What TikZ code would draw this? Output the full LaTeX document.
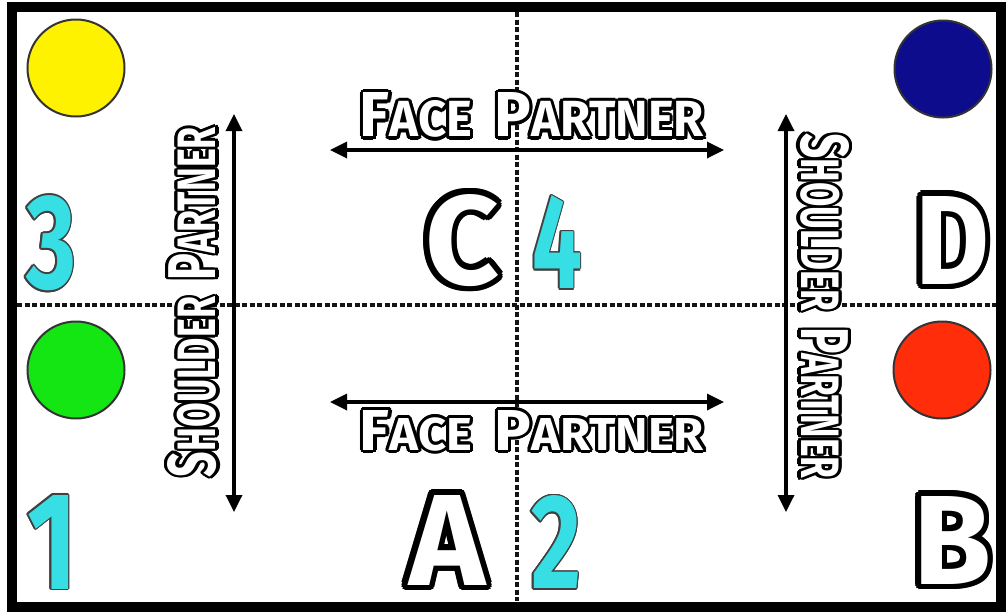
\documentclass[tikz,border=0pt]{standalone}
\usepackage{fontspec}
\setmainfont{Fira Sans}
\usepackage{contour}
\usetikzlibrary{arrows.meta}
\definecolor{ncyan}{RGB}{55,222,228}
\definecolor{ndot}{RGB}{20,20,20}
\newcommand{\whiteout}[2]{{\contourlength{#1}\contour{black}{\textcolor{white}{#2}}}}
\newcommand{\cyanout}[2]{{\contourlength{#1}\contour{black!75}{\textcolor{ncyan}{#2}}}}
\newcommand{\bigsc}[2]{{\fontsize{60}{60}\selectfont #1}{\fontsize{48}{48}\selectfont #2}}
\tikzset{
  divider/.style={line width=4pt, ndot, dash pattern=on 5pt off 2.5pt},
  conn/.style={line width=3.4pt, {Triangle[length=17pt,width=16pt]}-{Triangle[length=17pt,width=16pt]}},
  dot/.style={circle, draw=black!80, line width=2pt, minimum size=97pt, inner sep=0pt},
  lbl/.style={inner sep=0pt, anchor=center, font=\bfseries},
}
\begin{document}
\begin{tikzpicture}[x=1pt,y=-1pt]
\useasboundingbox (0,0) rectangle (1006,614);
\fill[white] (0,0) rectangle (1006,614);
% dotted dividers
\coordinate (hl) at (17,305); \coordinate (hr) at (997,305);
\coordinate (vt) at (517,12);  \coordinate (vb) at (517,601);
\draw[divider] (hl) -- (hr);
\draw[divider] (vt) -- (vb);
% frame
\draw[line width=10pt] (12,7) rectangle (1001,607);
% circles
\node[dot, fill=yellow] (yellow) at (76,68) {};
\node[dot, fill={rgb,255:red,12;green,12;blue,140}] (blue) at (943,69) {};
\node[dot, fill={rgb,255:red,20;green,230;blue,20}] (green) at (76,370) {};
\node[dot, fill={rgb,255:red,255;green,45;blue,10}] (red) at (942,370) {};
% numbers
\node[lbl] (n3) at (51,244) {\resizebox{50pt}{93pt}{\cyanout{1.2pt}{\fontsize{100}{100}\selectfont 3}}};
\node[lbl] (n1) at (52,543) {\resizebox{50pt}{94pt}{\cyanout{1.2pt}{\fontsize{100}{100}\selectfont 1}}};
\node[lbl] (n4) at (557,243) {\resizebox{50pt}{93pt}{\cyanout{1.2pt}{\fontsize{100}{100}\selectfont 4}}};
\node[lbl] (n2) at (556,543) {\resizebox{50pt}{93pt}{\cyanout{1.2pt}{\fontsize{100}{100}\selectfont 2}}};
% letters
\node[lbl] (lc) at (462,243) {\resizebox{74pt}{90pt}{\whiteout{4.5pt}{\fontsize{100}{100}\selectfont C}}};
\node[lbl] (ld) at (952,243) {\resizebox{74pt}{88pt}{\whiteout{4.5pt}{\fontsize{100}{100}\selectfont D}}};
\node[lbl] (la) at (447,543) {\resizebox{76pt}{90pt}{\whiteout{4.5pt}{\fontsize{100}{100}\selectfont A}}};
\node[lbl] (lb) at (952,543) {\resizebox{78pt}{88pt}{\whiteout{4.5pt}{\fontsize{100}{100}\selectfont B}}};
% face partner arrows
\coordinate (ftl) at (330,150); \coordinate (ftr) at (724,150);
\coordinate (fbl) at (330,402); \coordinate (fbr) at (724,402);
\draw[conn] (ftl) -- (ftr);
\draw[conn] (fbl) -- (fbr);
\node[lbl] (facetop) at (532,117) {\resizebox{344pt}{44pt}{\whiteout{3pt}{\bigsc{F}{ACE}\hspace{22pt}\bigsc{P}{ARTNER}}}};
\node[lbl] (facebot) at (532,432) {\resizebox{344pt}{40pt}{\whiteout{3pt}{\bigsc{F}{ACE}\hspace{22pt}\bigsc{P}{ARTNER}}}};
% shoulder partner arrows
\coordinate (slt) at (234,114); \coordinate (slb) at (234,512);
\coordinate (srt) at (786,114); \coordinate (srb) at (786,512);
\draw[conn] (slt) -- (slb);
\draw[conn] (srt) -- (srb);
\node[lbl, rotate=90] (shleft) at (194,302) {\resizebox{350pt}{48pt}{\whiteout{3pt}{\bigsc{S}{HOULDER}\hspace{22pt}\bigsc{P}{ARTNER}}}};
\node[lbl, rotate=-90] (shright) at (823,306) {\resizebox{345pt}{48pt}{\whiteout{3pt}{\bigsc{S}{HOULDER}\hspace{22pt}\bigsc{P}{ARTNER}}}};
\end{tikzpicture}
\end{document}
